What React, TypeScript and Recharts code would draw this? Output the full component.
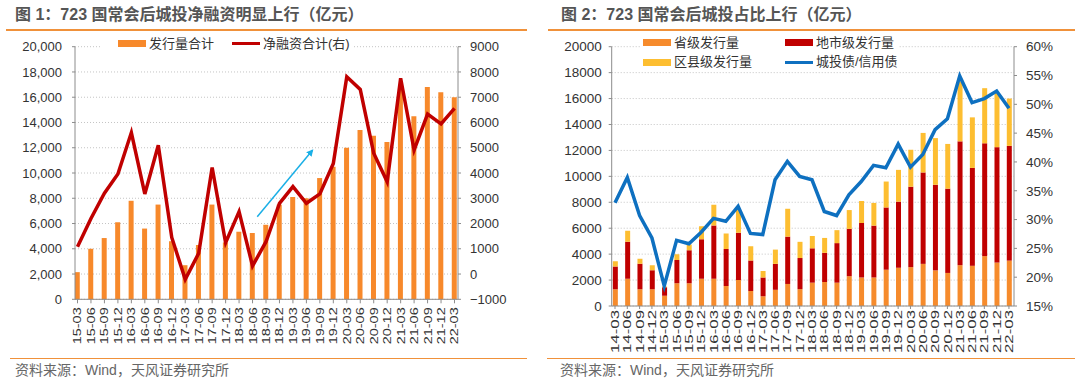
import React from 'react';
import { ComposedChart, Bar, Line, XAxis, YAxis, CartesianGrid, ReferenceLine } from 'recharts';

// ---- figure 1 data ----
const quarters1 = [
  '15-03', '15-06', '15-09', '15-12', '16-03', '16-06', '16-09', '16-12',
  '17-03', '17-06', '17-09', '17-12', '18-03', '18-06', '18-09', '18-12',
  '19-03', '19-06', '19-09', '19-12', '20-03', '20-06', '20-09', '20-12',
  '21-03', '21-06', '21-09', '21-12', '22-03',
];
const issueTotal = [
  2150, 4000, 4850, 6100, 7800, 5600, 7500, 4600, 2700, 4300, 7500, 4500, 5350, 5250, 5900,
  7500, 8100, 8000, 9600, 10500, 12000, 13400, 12950, 12450, 16700, 14500, 16800, 16400, 16000,
];
const netFinancing = [
  1080, 2200, 3200, 3960, 5600, 3170, 5100, 1450, -210, 820, 4220, 1240, 2470, 320, 1280,
  2800, 3460, 2800, 3170, 4380, 7810, 7310, 4780, 3650, 7750, 4910, 6330, 5940, 6560,
];
const ticks1Left = [0, 2000, 4000, 6000, 8000, 10000, 12000, 14000, 16000, 18000, 20000];
const ticks1Right = [-1000, 0, 1000, 2000, 3000, 4000, 5000, 6000, 7000, 8000, 9000];

// ---- figure 2 data ----
const quarters2 = [
  '14-03', '14-06', '14-09', '14-12', '15-03', '15-06', '15-09', '15-12',
  '16-03', '16-06', '16-09', '16-12', '17-03', '17-06', '17-09', '17-12',
  '18-03', '18-06', '18-09', '18-12', '19-03', '19-06', '19-09', '19-12',
  '20-03', '20-06', '20-09', '20-12', '21-03', '21-06', '21-09', '21-12', '22-03',
];
const provincial = [
  1300, 2100, 1300, 1300, 800, 1750, 1750, 2100, 2100, 1550, 2000, 1150, 750, 1250, 1700, 1300,
  1800, 1850, 1800, 2300, 2200, 2200, 2800, 2950, 3000, 3250, 2750, 2550, 3150, 3100, 3850, 3350, 3500,
];
const municipal = [
  1750, 2850, 1950, 1450, 650, 1800, 2550, 3050, 4100, 2850, 3650, 2350, 1450, 2000, 3650, 2400,
  2650, 2250, 3050, 3650, 4200, 4000, 4800, 5100, 6200, 7050, 6600, 6500, 9550, 7550, 8700, 8900, 8850,
];
const county = [
  400, 850, 400, 400, 60, 450, 450, 1000, 1600, 1200, 1850, 1100, 500, 1100, 2150, 1250,
  950, 1150, 1000, 1450, 1700, 1750, 2000, 2450, 2850, 3050, 3600, 3450, 4600, 3900, 4250, 4200, 3650,
];
const lgfvShare = [
  32.9, 37.3, 30.7, 26.8, 18.5, 26.4, 25.8, 27.8, 30.2, 29.7, 32.3, 27.6, 27.4, 36.9, 40.1, 37.5,
  36.9, 31.4, 30.7, 34.3, 36.6, 39.4, 39.0, 43.1, 39.1, 41.3, 45.6, 47.5, 54.9, 50.3, 51.0, 52.3, 49.3,
];
const ticks2Left = [0, 2000, 4000, 6000, 8000, 10000, 12000, 14000, 16000, 18000, 20000];
const ticks2Right = [15, 20, 25, 30, 35, 40, 45, 50, 55, 60];

const data1 = quarters1.map((q, i) => ({ i, q, issue: issueTotal[i], net: netFinancing[i] }));
const data2 = quarters2.map((q, i) => ({
  i, q, prov: provincial[i], city: municipal[i], county: county[i], share: lgfvShare[i],
}));
const idx1 = quarters1.map((_, i) => i);
const idx2 = quarters2.map((_, i) => i);

const FONT = '"Liberation Sans", Arial, "Noto Sans CJK SC", sans-serif';
const AXIS = '#8c8c8c';
const TEXT = '#333';
const RULE = '#F0913A';

const QuarterTick = (props: any) => {
  const { x, y, payload, labels, len, size } = props;
  return (
    <g transform={`translate(${x},${y})`}>
      <text
        transform="rotate(-90)"
        x={0}
        y={0}
        dy="0.36em"
        textAnchor="end"
        fontSize={size}
        fill={TEXT}
        fontFamily={FONT}
        textLength={len}
        lengthAdjust="spacingAndGlyphs"
      >
        {labels[payload.value]}
      </text>
    </g>
  );
};

const Title = ({ left, children }: { left: number; children: React.ReactNode }) => (
  <div style={{ position: 'absolute', left, top: 5, fontSize: 16, fontWeight: 700, color: '#555', lineHeight: '20px', whiteSpace: 'nowrap' }}>
    {children}
  </div>
);

const Rule = ({ left, top, width }: { left: number; top: number; width: number }) => (
  <div style={{ position: 'absolute', left, top, width, height: 1.5, background: RULE }} />
);

const Source = ({ left }: { left: number }) => (
  <div style={{ position: 'absolute', left, top: 361, fontSize: 14, color: '#666', lineHeight: '18px', whiteSpace: 'nowrap' }}>
    资料来源：Wind，天风证券研究所
  </div>
);

const Key = ({ left, y, color, line, label }: { left: number; y: number; color: string; line?: boolean; label: string }) => (
  <>
    <div style={{ position: 'absolute', left, top: y - (line ? 1.5 : 3.5), width: 28, height: line ? 3 : 7, background: color }} />
    <div style={{ position: 'absolute', left: left + 31, top: y - 9, fontSize: 13, lineHeight: '18px', color: TEXT, whiteSpace: 'nowrap' }}>
      {label}
    </div>
  </>
);

const PanelOne = () => (
  <div style={{ position: 'absolute', left: 0, top: 0, width: 540, height: 380 }}>
    <ComposedChart width={540} height={380} data={data1} margin={{ top: 46.7, right: 0, bottom: 0, left: 0 }}>
      <CartesianGrid yAxisId="left" vertical={false} stroke="#c4c4c4" strokeDasharray="1 2" />
      <XAxis
        dataKey="i"
        type="number"
        domain={[-0.186, 28.26]}
        allowDataOverflow
        ticks={idx1}
        interval={0}
        height={80.7}
        tickSize={4}
        tickMargin={4}
        axisLine={{ stroke: AXIS }}
        tickLine={{ stroke: AXIS }}
        tick={<QuarterTick labels={quarters1} len={37} size={11} />}
      />
      <YAxis
        yAxisId="left"
        width={75}
        domain={[0, 20000]}
        ticks={ticks1Left}
        interval={0}
        tickFormatter={(v: number) => v.toLocaleString('en-US')}
        tick={{ fontSize: 13, fill: TEXT, fontFamily: FONT }}
        tickSize={3}
        tickMargin={10}
        axisLine={{ stroke: AXIS }}
        tickLine={{ stroke: AXIS }}
      />
      <YAxis
        yAxisId="right"
        orientation="right"
        width={82}
        domain={[-1000, 9000]}
        ticks={ticks1Right}
        interval={0}
        tickFormatter={(v: number) => (v < 0 ? `−${Math.abs(v)}` : String(v))}
        tick={{ fontSize: 13, fill: TEXT, fontFamily: FONT }}
        tickSize={3}
        tickMargin={9}
        axisLine={{ stroke: AXIS }}
        tickLine={{ stroke: AXIS }}
      />
      <Bar yAxisId="left" dataKey="issue" fill="#F7892B" barSize={5} isAnimationActive={false} />
      <Line yAxisId="right" dataKey="net" stroke="#C00000" strokeWidth={3.5} dot={false} activeDot={false} isAnimationActive={false} />
      <ReferenceLine
        yAxisId="right"
        segment={[{ x: 13.35, y: 2270 }, { x: 17.45, y: 4900 }]}
        stroke="#1AAFE6"
        strokeWidth={1.5}
        markerEnd="url(#arrowHead)"
      />
    </ComposedChart>
    <Title left={15}>图 1：723 国常会后城投净融资明显上行（亿元）</Title>
    <Rule left={6} top={29} width={521} />
    <div style={{ position: 'absolute', left: 100, top: 36, width: 254, height: 16, background: '#fff' }} />
    <Key left={118} y={43.5} color="#F7892B" label="发行量合计" />
    <Key left={232} y={43.5} color="#C00000" line label="净融资合计(右)" />
    <Rule left={10} top={357.5} width={517} />
    <Source left={15} />
  </div>
);

const PanelTwo = () => (
  <div style={{ position: 'absolute', left: 540, top: 0, width: 540, height: 380 }}>
    <ComposedChart width={540} height={380} data={data2} margin={{ top: 46.7, right: 0, bottom: 0, left: 0 }}>
      <CartesianGrid yAxisId="left" vertical={false} stroke="#c4c4c4" strokeDasharray="1 2" />
      <XAxis
        dataKey="i"
        type="number"
        domain={[-0.268, 32.41]}
        allowDataOverflow
        ticks={idx2}
        interval={0}
        height={74}
        tickSize={3}
        tickMargin={1}
        axisLine={{ stroke: AXIS }}
        tickLine={{ stroke: AXIS }}
        tick={<QuarterTick labels={quarters2} len={43} size={11.5} />}
      />
      <YAxis
        yAxisId="left"
        width={71.7}
        domain={[0, 20000]}
        ticks={ticks2Left}
        interval={0}
        tick={{ fontSize: 13.5, fill: TEXT, fontFamily: FONT }}
        tickSize={3}
        tickMargin={7}
        axisLine={{ stroke: AXIS }}
        tickLine={{ stroke: AXIS }}
      />
      <YAxis
        yAxisId="right"
        orientation="right"
        width={66}
        domain={[15, 60]}
        ticks={ticks2Right}
        interval={0}
        tickFormatter={(v: number) => `${v}%`}
        tick={{ fontSize: 13.5, fill: TEXT, fontFamily: FONT }}
        tickSize={3}
        tickMargin={9}
        axisLine={{ stroke: AXIS }}
        tickLine={{ stroke: AXIS }}
      />
      <Bar yAxisId="left" dataKey="prov" stackId="s" fill="#F68B2C" barSize={5} isAnimationActive={false} />
      <Bar yAxisId="left" dataKey="city" stackId="s" fill="#C00000" barSize={5} isAnimationActive={false} />
      <Bar yAxisId="left" dataKey="county" stackId="s" fill="#FDBE31" barSize={5} isAnimationActive={false} />
      <Line yAxisId="right" dataKey="share" stroke="#0E70C0" strokeWidth={3.5} dot={false} activeDot={false} isAnimationActive={false} />
    </ComposedChart>
    <Title left={21}>图 2：723 国常会后城投占比上行（亿元）</Title>
    <Rule left={8} top={29} width={527} />
    <div style={{ position: 'absolute', left: 100, top: 36, width: 258, height: 16, background: '#fff' }} />
    <Key left={103} y={42.7} color="#F68B2C" label="省级发行量" />
    <Key left={245} y={42.7} color="#C00000" label="地市级发行量" />
    <Key left={103} y={62} color="#FDBE31" label="区县级发行量" />
    <Key left={245} y={62} color="#0E70C0" line label="城投债/信用债" />
    <Rule left={7} top={357.5} width={528} />
    <Source left={20} />
  </div>
);

export default function App() {
  return (
    <div style={{ position: 'absolute', left: 0, top: 0, width: 1080, height: 380, background: '#fff', fontFamily: FONT, overflow: 'hidden' }}>
      <svg width={0} height={0} style={{ position: 'absolute' }}>
        <defs>
          <marker id="arrowHead" viewBox="0 0 10 10" refX="8" refY="5" markerWidth="7" markerHeight="7" markerUnits="userSpaceOnUse" orient="auto">
            <path d="M0,0 L10,5 L0,10 z" fill="#1AAFE6" />
          </marker>
        </defs>
      </svg>
      <PanelOne />
      <PanelTwo />
    </div>
  );
}
